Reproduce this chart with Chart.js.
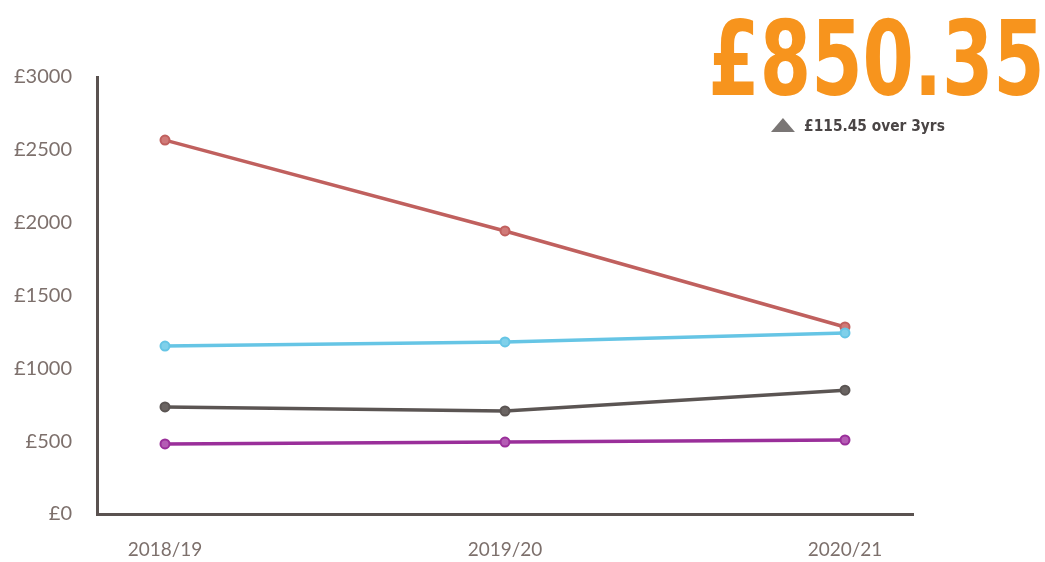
<!DOCTYPE html>
<html>
<head>
<meta charset="utf-8">
<script src="https://cdn.jsdelivr.net/npm/chart.js@4/dist/chart.umd.min.js"></script>
<style>
  html, body { margin: 0; padding: 0; background: #ffffff; }
  #wrap { position: relative; width: 1045px; height: 562px; overflow: hidden; }
  #c { position: absolute; left: 0; top: 0; }
  #big { position: absolute; right: 0px; top: 7px; font-family: "DejaVu Sans", sans-serif; font-weight: bold; font-size: 104px; color: #F7941D; line-height: 1; transform: scaleX(0.71); transform-origin: right top; white-space: nowrap; }
  #sub { position: absolute; left: 771px; top: 117px; font-family: "DejaVu Sans", sans-serif; font-weight: bold; font-size: 15px; color: #4a4545; white-space: nowrap; transform: scaleX(0.92); transform-origin: left top; }
  #sub .tri { display: inline-block; width: 0; height: 0; border-left: 13px solid transparent; border-right: 13px solid transparent; border-bottom: 14px solid #7a7675; margin-right: 10px; vertical-align: -1px; }
</style>
</head>
<body>
<div id="wrap">
  <canvas id="c" width="1045" height="562"></canvas>
  <div id="big">£850.35</div>
  <div id="sub"><span class="tri"></span>£115.45 over 3yrs</div>
</div>
<script>
const categories = ["2018/19", "2019/20", "2020/21"];
const yTicks = [0, 500, 1000, 1500, 2000, 2500, 3000];
const seriesPurple = [481, 494, 508];
const seriesGrey = [734.90, 707, 850.35];
const seriesCyan = [1153, 1181, 1243];
const seriesRed = [2567, 1943, 1284];

function pts(arr) { return arr.map((v, i) => ({ x: i, y: v })); }

function ds(data, color, fill) {
  return {
    data: pts(data),
    borderColor: color,
    backgroundColor: color,
    borderWidth: 3.5,
    pointRadius: 4.5,
    pointBorderWidth: 2,
    pointBackgroundColor: fill,
    pointBorderColor: color,
    tension: 0
  };
}

new Chart(document.getElementById('c'), {
  type: 'line',
  data: {
    datasets: [
      ds(seriesPurple, '#9a2f9a', '#b45cb4'),
      ds(seriesGrey, '#5b5553', '#6a6462'),
      ds(seriesCyan, '#66c5e5', '#7fd0ea'),
      ds(seriesRed, '#c0605e', '#d07a78')
    ]
  },
  options: {
    responsive: false,
    animation: false,
    layout: { padding: { top: 77, right: 132, bottom: 0, left: 0 } },
    plugins: { legend: { display: false }, tooltip: { enabled: false }, title: { display: false } },
    scales: {
      x: {
        type: 'linear',
        min: -0.2,
        max: 2.2,
        afterBuildTicks: (s) => { s.ticks = categories.map((_, i) => ({ value: i })); },
        afterFit: (s) => { s.height = 48; },
        grid: { display: false, drawTicks: false },
        border: { display: true, color: '#5a5250', width: 3 },
        ticks: {
          callback: (v) => categories[v],
          color: '#7d706c',
          font: { family: 'Lato', size: 19 },
          padding: 24,
          maxRotation: 0
        }
      },
      y: {
        min: 0,
        max: 3000,
        afterBuildTicks: (s) => { s.ticks = yTicks.map(v => ({ value: v })); },
        afterFit: (s) => { s.width = 97; },
        grid: { display: false, drawTicks: false },
        border: { display: true, color: '#5a5250', width: 3 },
        ticks: {
          callback: (v) => '£' + v,
          color: '#7d706c',
          font: { family: 'Lato', size: 20 },
          padding: 25
        }
      }
    }
  }
});
</script>
</body>
</html>
